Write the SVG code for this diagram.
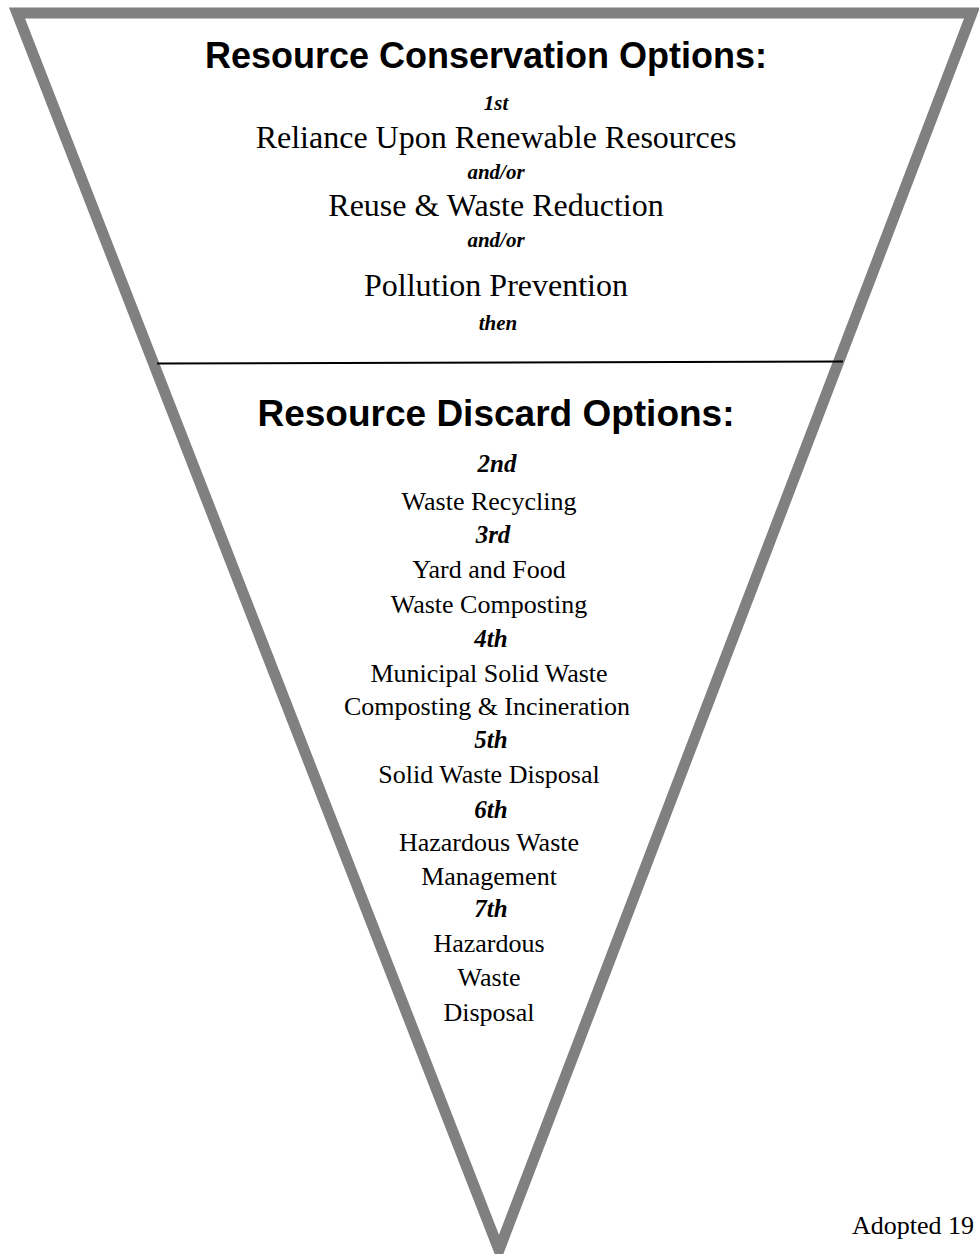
<svg xmlns="http://www.w3.org/2000/svg" width="979" height="1254" viewBox="0 0 979 1254">
<style>
.h{font-family:"Liberation Sans",Arial,sans-serif;font-weight:bold;font-size:36px;text-anchor:middle;fill:#000}
.t{font-family:"Liberation Serif","Times New Roman",serif;font-size:32px;text-anchor:middle;fill:#000}
.s{font-family:"Liberation Serif","Times New Roman",serif;font-size:26px;text-anchor:middle;fill:#000}
.bi{font-family:"Liberation Serif","Times New Roman",serif;font-weight:bold;font-style:italic;font-size:21px;text-anchor:middle;fill:#000}
.bi2{font-family:"Liberation Serif","Times New Roman",serif;font-weight:bold;font-style:italic;font-size:25px;text-anchor:middle;fill:#000}
.n{font-family:"Liberation Serif","Times New Roman",serif;font-size:26px;fill:#000}
</style>
<rect width="979" height="1254" fill="#fff"/>
<g id="funnel">
<polygon points="17,13 972,13 499,1250" fill="#fff" stroke="#808080" stroke-width="11" stroke-linejoin="miter"/>
</g>
<g id="connectors">
<line x1="157" y1="363.5" x2="843" y2="361.5" stroke="#000" stroke-width="2"/>
</g>
<g id="conservation">
<text class="h" x="486" y="68">Resource Conservation Options:</text>
<text class="bi" x="496" y="110">1st</text>
<text class="t" x="496" y="148">Reliance Upon Renewable Resources</text>
<text class="bi" x="496" y="179">and/or</text>
<text class="t" x="496" y="216">Reuse &amp; Waste Reduction</text>
<text class="bi" x="496" y="247">and/or</text>
<text class="t" x="496" y="296">Pollution Prevention</text>
<text class="bi" x="498" y="330">then</text>
</g>
<g id="discard">
<text class="h" x="496" y="426" style="font-size:37px">Resource Discard Options:</text>
<text class="bi2" x="497" y="472">2nd</text>
<text class="s" x="489" y="510">Waste Recycling</text>
<text class="bi2" x="493" y="543">3rd</text>
<text class="s" x="489" y="578">Yard and Food</text>
<text class="s" x="489" y="613">Waste Composting</text>
<text class="bi2" x="491" y="647">4th</text>
<text class="s" x="489" y="682">Municipal Solid Waste</text>
<text class="s" x="487" y="715">Composting &amp; Incineration</text>
<text class="bi2" x="491" y="748">5th</text>
<text class="s" x="489" y="783">Solid Waste Disposal</text>
<text class="bi2" x="491" y="818">6th</text>
<text class="s" x="489" y="851">Hazardous Waste</text>
<text class="s" x="489" y="885">Management</text>
<text class="bi2" x="491" y="917">7th</text>
<text class="s" x="489" y="952">Hazardous</text>
<text class="s" x="489" y="986">Waste</text>
<text class="s" x="489" y="1021">Disposal</text>
</g>
<g id="note">
<text class="n" x="852" y="1234">Adopted 19</text>
</g>
</svg>
